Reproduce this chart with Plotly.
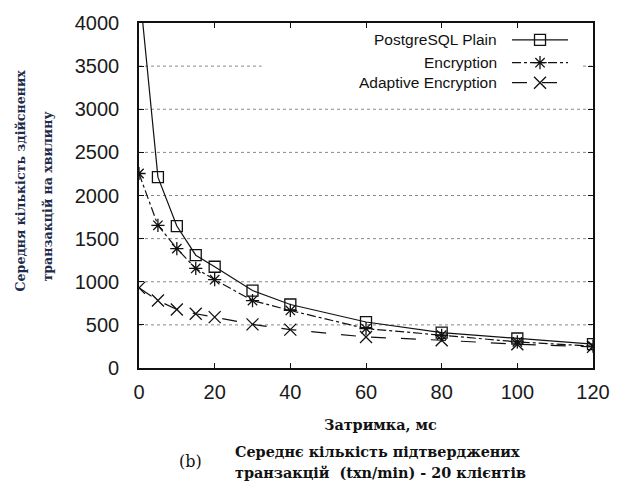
import plotly.graph_objects as go

# ---- data ----
delay_ms = [0, 5, 10, 15, 20, 30, 40, 60, 80, 100, 120]
plain = [4450, 2213, 1646, 1308, 1174, 898, 736, 533, 411, 342, 276]
encryption = [2255, 1654, 1384, 1154, 1024, 782, 667, 457, 380, 303, 253]
adaptive = [929, 782, 679, 629, 590, 506, 445, 360, 322, 276, 245]

series_names = ["PostgreSQL Plain", "Encryption", "Adaptive Encryption"]
x_ticks = [0, 20, 40, 60, 80, 100, 120]
y_ticks = [0, 500, 1000, 1500, 2000, 2500, 3000, 3500, 4000]
grid_vals = [500, 1000, 1500, 2000, 2500, 3000, 3500]

# legend key layout (paper fractions)
key_x = [0.8216, 0.9449]
key_mid = 0.8833
key_rows = [0.951, 0.885, 0.827]

styles = [
    dict(dash="solid", symbol="square-open", size=11),
    dict(dash="dashdot", symbol="asterisk-open", size=11),
    dict(dash="longdash", symbol="x-thin-open", size=12),
]

fig = go.Figure()
for name, ys, st in zip(series_names, [plain, encryption, adaptive], styles):
    fig.add_trace(go.Scatter(
        x=delay_ms, y=ys, mode="lines+markers", name=name,
        line=dict(color="#111", width=1.2, dash=st["dash"]),
        marker=dict(symbol=st["symbol"], size=st["size"], color="#111",
                    line=dict(color="#111", width=1.3)),
        showlegend=False,
    ))

# custom legend keys (text on the left, sample on the right)
for name, row, st in zip(series_names, key_rows, styles):
    fig.add_trace(go.Scatter(
        x=key_x, y=[row, row], mode="lines", xaxis="x2", yaxis="y2",
        line=dict(color="#111", width=1.2, dash=st["dash"]),
        showlegend=False, hoverinfo="skip"))
    fig.add_trace(go.Scatter(
        x=[key_mid], y=[row], mode="markers", xaxis="x2", yaxis="y2",
        marker=dict(symbol=st["symbol"], size=st["size"], color="#111",
                    line=dict(color="#111", width=1.3)),
        showlegend=False, hoverinfo="skip"))
    fig.add_annotation(x=0.793, y=row, xref="paper", yref="paper",
                       text=name, showarrow=False, xanchor="right",
                       yanchor="middle",
                       font=dict(family="Liberation Sans", size=15.5, color="#111"))

# dotted horizontal grid lines, then the legend background over them
for g in grid_vals:
    fig.add_shape(type="line", xref="paper", yref="y", x0=0, x1=1, y0=g, y1=g,
                  line=dict(color="#888", width=1, dash="dot"), layer="below")
fig.add_shape(type="rect", xref="paper", yref="paper",
              x0=0.27, x1=0.975, y0=0.79, y1=0.98,
              fillcolor="white", line=dict(width=0), layer="below")

tickfont = dict(family="Liberation Sans", size=20, color="#1a1a1a")
fig.update_layout(
    width=623, height=485,
    margin=dict(l=139, r=30, t=21, b=117),
    plot_bgcolor="white", paper_bgcolor="white",
    xaxis=dict(range=[0, 120], tickvals=x_ticks, showgrid=False,
               ticks="inside", ticklen=5, tickwidth=1.2, tickcolor="#111",
               showline=True, linecolor="#111", linewidth=1.6,
               mirror="allticks", zeroline=False, tickfont=tickfont,
               ticklabelstandoff=5),
    yaxis=dict(range=[0, 4000], tickvals=y_ticks, showgrid=False,
               ticks="inside", ticklen=5, tickwidth=1.2, tickcolor="#111",
               showline=True, linecolor="#111", linewidth=1.6,
               mirror="allticks", zeroline=False, tickfont=tickfont,
               ticklabelstandoff=14),
    xaxis2=dict(range=[0, 1], overlaying="x", visible=False, fixedrange=True),
    yaxis2=dict(range=[0, 1], overlaying="y", visible=False, fixedrange=True),
)

serif_b = dict(family="DejaVu Serif", size=14.4, color="#111")
label_font = dict(family="DejaVu Serif", size=12.6, color="#1e2b4a")

fig.add_annotation(x=(20 - 139) / 454, y=(368 - 293) / 347, xref="paper", yref="paper",
                   text="<b>Середня кількість здійснених</b>", textangle=-90,
                   showarrow=False, xanchor="center", yanchor="bottom",
                   font=label_font)
fig.add_annotation(x=(47 - 139) / 454, y=(368 - 283) / 347, xref="paper", yref="paper",
                   text="<b>транзакцій на хвилину</b>", textangle=-90,
                   showarrow=False, xanchor="center", yanchor="bottom",
                   font=label_font)

fig.add_annotation(x=(380 - 139) / 454, y=(368 - 425) / 347, xref="paper", yref="paper",
                   text="<b>Затримка, мс</b>", showarrow=False,
                   xanchor="center", yanchor="middle", font=serif_b)
fig.add_annotation(x=(233 - 139) / 454, y=(368 - 452) / 347, xref="paper", yref="paper",
                   text="<b>Середнє кількість підтверджених</b>", showarrow=False,
                   xanchor="left", yanchor="middle", font=serif_b)
fig.add_annotation(x=(233 - 139) / 454, y=(368 - 473) / 347, xref="paper", yref="paper",
                   text="<b>транзакцій  (txn/min) - 20 клієнтів</b>", showarrow=False,
                   xanchor="left", yanchor="middle", font=serif_b)
fig.add_annotation(x=(190 - 139) / 454, y=(368 - 462) / 347, xref="paper", yref="paper",
                   text="(b)", showarrow=False,
                   xanchor="center", yanchor="middle",
                   font=dict(family="DejaVu Serif", size=16, color="#111"))

fig.write_html("out.html",
               config={"displayModeBar": False},
               post_script="document.body.style.margin='0';"
                           "document.body.style.overflow='hidden';")
